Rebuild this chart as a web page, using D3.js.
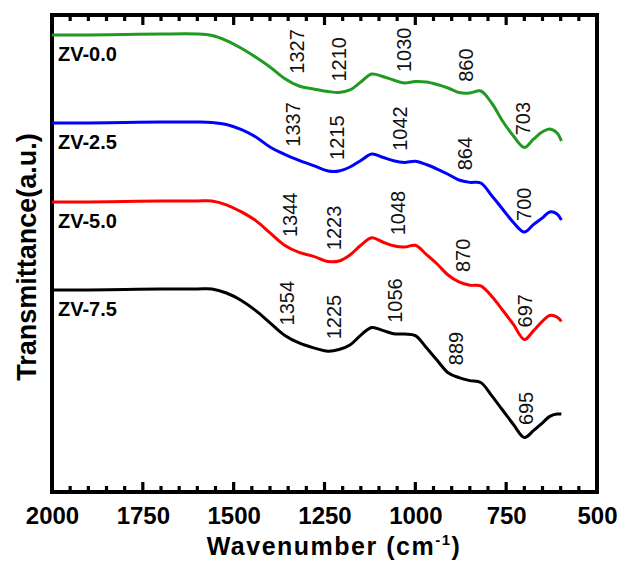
<!DOCTYPE html>
<html>
<head>
<meta charset="utf-8">
<script src="https://cdn.jsdelivr.net/npm/d3@7"></script>
<style>
  body { margin: 0; background: #fff; }
  text { font-family: "Liberation Sans", Arial, sans-serif; }
</style>
</head>
<body>
<svg id="chart"></svg>
<script>
// wavenumber grid (cm-1) shared by all spectra
const wavenumbers = [2000, 1900, 1800, 1700, 1600, 1560, 1520, 1480, 1440, 1400,
  1360, 1320, 1280, 1240, 1210, 1180, 1150, 1120, 1090, 1060,
  1030, 1000, 970, 940, 910, 880, 850, 820, 790, 760,
  730, 700, 675, 650, 630, 610, 598];

// transmittance (a.u., curves already offset as in the figure)
const zv00 = [95.81, 95.81, 95.91, 96.02, 96.02, 95.7, 94.65, 93.08, 91.19, 89.1,
  86.69, 85.12, 84.49, 83.96, 83.75, 84.28, 85.95, 87.63, 87.1, 86.37,
  85.74, 86.06, 85.95, 85.43, 84.7, 83.75, 83.65, 84.07, 81.55, 77.78,
  74.63, 72.22, 73.96, 75.51, 76.1, 75.26, 73.58];
const zv25 = [77.36, 77.36, 77.46, 77.57, 77.57, 77.46, 77.04, 76.0, 74.47, 72.33,
  70.8, 69.54, 68.43, 67.3, 67.3, 68.13, 69.5, 70.86, 70.17, 69.43,
  69.08, 69.35, 68.66, 67.71, 66.62, 65.41, 64.91, 64.78, 62.16, 59.33,
  56.5, 54.51, 56.06, 57.48, 58.7, 58.28, 57.02];
const zv50 = [60.8, 60.8, 60.9, 61.01, 61.01, 61.01, 60.21, 58.78, 56.94, 54.34,
  51.74, 50.23, 49.41, 48.34, 48.43, 49.69, 51.74, 53.29, 52.41, 51.61,
  51.34, 51.72, 49.83, 47.8, 45.49, 44.03, 43.35, 43.21, 41.03, 38.16,
  35.12, 31.97, 33.77, 35.83, 37.02, 36.69, 35.77];
const zv75 = [42.35, 42.35, 42.45, 42.56, 42.56, 42.56, 41.72, 40.21, 38.07, 35.47,
  32.87, 31.24, 30.21, 29.52, 29.87, 30.82, 32.89, 34.49, 33.88, 33.17,
  33.1, 32.79, 30.29, 27.61, 25.01, 23.98, 23.35, 22.96, 20.21, 17.19,
  14.15, 11.43, 12.85, 14.51, 15.85, 16.35, 16.35];

const seriesNames = ["ZV-0.0", "ZV-2.5", "ZV-5.0", "ZV-7.5"];
const seriesColors = ["#229922", "#0000ff", "#ff0000", "#000000"];

// band positions marked on each spectrum
const peaks00 = [1327, 1210, 1030, 860, 703];
const peaks25 = [1337, 1215, 1042, 864, 700];
const peaks50 = [1344, 1223, 1048, 870, 697];
const peaks75 = [1354, 1225, 1056, 889, 695];

const majorTicks = [2000, 1750, 1500, 1250, 1000, 750, 500];

const width = 619, height = 562;
const plotLeft = 52, plotRight = 597, plotTop = 15, plotBottom = 492;

const svg = d3.select("#chart")
    .attr("width", width)
    .attr("height", height);

const x = d3.scaleLinear().domain([2000, 500]).range([plotLeft, plotRight]);
const y = d3.scaleLinear().domain([0, 100]).range([plotBottom, plotTop]);

const minorTicks = d3.range(550, 2000, 50).filter(d => d % 250 !== 0);

// bottom tick labels
svg.append("g")
    .attr("transform", `translate(0,${plotBottom})`)
    .call(d3.axisBottom(x).tickValues(majorTicks).tickSize(0).tickPadding(15).tickFormat(d3.format("d")))
    .call(g => g.select(".domain").remove())
    .call(g => g.selectAll("text")
        .attr("font-size", "24px").attr("font-weight", "bold").attr("fill", "#000")
        .attr("font-family", "Liberation Sans, Arial, sans-serif"));

// frame
svg.append("rect")
    .attr("x", plotLeft).attr("y", plotTop)
    .attr("width", plotRight - plotLeft).attr("height", plotBottom - plotTop)
    .attr("fill", "none")
    .attr("stroke", "#000")
    .attr("stroke-width", 4);

// inward tick marks on bottom and top edges, one path per edge
const tickData = majorTicks.map(d => ({v: d, len: 10}))
    .concat(minorTicks.map(d => ({v: d, len: 6})));

[plotBottom, plotTop].forEach(edge => {
  let dir = edge === plotBottom ? -1 : 1;
  let p = d3.path();
  tickData.forEach(d => {
    p.moveTo(x(d.v), edge);
    p.lineTo(x(d.v), edge + dir * d.len);
  });
  svg.append("path")
      .attr("d", p.toString())
      .attr("fill", "none")
      .attr("stroke", "#000")
      .attr("stroke-width", 3.2);
});

const line = d3.line()
    .x((d, i) => x(wavenumbers[i]))
    .y(d => y(d))
    .curve(d3.curveCatmullRom);

// linear interpolation on the grid, used to place the band labels
function valueAt(vals, w) {
  for (let i = 0; i < wavenumbers.length - 1; i++) {
    if (w <= wavenumbers[i] && w >= wavenumbers[i + 1]) {
      let t = (wavenumbers[i] - w) / (wavenumbers[i] - wavenumbers[i + 1]);
      return vals[i] + t * (vals[i + 1] - vals[i]);
    }
  }
  return vals[vals.length - 1];
}

const allSeries = [zv00, zv25, zv50, zv75];
const allPeaks = [peaks00, peaks25, peaks50, peaks75];

allSeries.forEach((vals, k) => {
  svg.append("path")
      .datum(vals)
      .attr("d", line)
      .attr("fill", "none")
      .attr("stroke", seriesColors[k])
      .attr("stroke-width", 3)
      .attr("stroke-linejoin", "round");

  svg.append("text")
      .attr("x", plotLeft + 6)
      .attr("y", y(vals[0]) + 26)
      .attr("font-size", "20px")
      .attr("font-weight", "bold")
      .text(seriesNames[k]);

  allPeaks[k].forEach(p => {
    svg.append("text")
        .attr("transform", `translate(${x(p) + 7},${y(valueAt(vals, p)) - 11}) rotate(-90)`)
        .attr("font-size", "20px")
        .attr("fill", "#111")
        .text(p);
  });
});

// axis titles
const xTitle = svg.append("text")
    .attr("x", 334)
    .attr("y", 555)
    .attr("text-anchor", "middle")
    .attr("font-size", "25px")
    .attr("font-weight", "bold")
    .attr("letter-spacing", "1.5px");
xTitle.append("tspan").text("Wavenumber (cm");
xTitle.append("tspan").attr("font-size", "15px").attr("dy", "-10").text("-1");
xTitle.append("tspan").attr("dy", "10").text(")");

svg.append("text")
    .attr("transform", "translate(36,257) rotate(-90)")
    .attr("text-anchor", "middle")
    .attr("font-size", "27px")
    .attr("font-weight", "bold")
    .text("Transmittance(a.u.)");
</script>
</body>
</html>
